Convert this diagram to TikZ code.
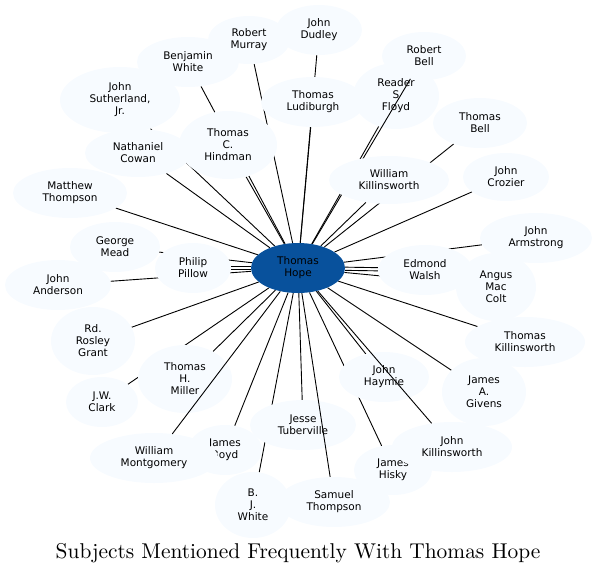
\documentclass[tikz,border=0pt]{standalone}
\usepackage{fontspec}
\newfontfamily\nodefont{DejaVu Sans}
\newfontfamily\titlefont[Extension=.otf]{lmroman10-regular}
\usetikzlibrary{shapes.geometric}
\definecolor{pale}{HTML}{F7FBFF}
\definecolor{hopeblue}{HTML}{08519C}
\pgfdeclarelayer{background}
\pgfdeclarelayer{foreground}
\pgfsetlayers{background,main,foreground}
\begin{document}
\begin{tikzpicture}[x=1pt,y=-1pt,
  pn/.style n args={2}{ellipse, fill=pale, draw=none, minimum width=#1, minimum height=#2, inner sep=0pt, align=center, font=\nodefont\fontsize{10.5}{12}\selectfont},
  hopenode/.style={ellipse, fill=hopeblue, draw=none, minimum width=94, minimum height=50, inner sep=0pt, align=center, font=\nodefont\fontsize{10.5}{12}\selectfont},
  edge/.style={draw=black, line width=0.9pt},
  titlestyle/.style={font=\titlefont\fontsize{21.4}{25}\selectfont, inner sep=0pt, anchor=base}]
\useasboundingbox (0,0) rectangle (597,574);
% nodes (main layer)
\node[pn={86}{50}] (dudley) at (319,30) {John\\Dudley};
\node[pn={82}{48}] (murray) at (249,40) {Robert\\Murray};
\node[pn={102}{50}] (bwhite) at (188,62) {Benjamin\\White};
\node[pn={120}{66}] (suth) at (120,100) {John\\Sutherland,\\Jr.};
\node[pn={106}{48}] (cowan) at (138,153) {Nathaniel\\Cowan};
\node[pn={98}{68}] (hindman) at (228,145) {Thomas\\C.\\Hindman};
\node[pn={104}{50}] (ludi) at (313,102) {Thomas\\Ludiburgh};
\node[pn={84}{48}] (rbell) at (424,56) {Robert\\Bell};
\node[pn={86}{66}] (floyd) at (396,96) {Reader\\S\\Floyd};
\node[pn={94}{50}] (tbell) at (480,123) {Thomas\\Bell};
\node[pn={86}{48}] (crozier) at (506,177) {John\\Crozier};
\node[pn={114}{50}] (mthompson) at (70,193) {Matthew\\Thompson};
\node[pn={90}{50}] (mead) at (115,247) {George\\Mead};
\node[pn={76}{50}] (pillow) at (193,268) {Philip\\Pillow};
\node[pn={106}{50}] (anderson) at (58,285) {John\\Anderson};
\node[pn={84}{68}] (grant) at (93,341) {Rd.\\Rosley\\Grant};
\node[pn={94}{68}] (miller) at (185,379) {Thomas\\H.\\Miller};
\node[pn={72}{50}] (clark) at (102,402) {J.W.\\Clark};
\node[pn={74}{50}] (boyd) at (225,450) {James\\Boyd};
\node[pn={128}{50}] (montgomery) at (154,458) {William\\Montgomery};
\node[pn={106}{50}] (tuberville) at (303,425) {Jesse\\Tuberville};
\node[pn={76}{66}] (bjwhite) at (253,505) {B.\\J.\\White};
\node[pn={112}{50}] (sthompson) at (334,502) {Samuel\\Thompson};
\node[pn={78}{50}] (hisky) at (393,470) {James\\Hisky};
\node[pn={120}{50}] (jk) at (452,447) {John\\Killinsworth};
\node[pn={90}{50}] (haymie) at (384,377) {John\\Haymie};
\node[pn={84}{68}] (givens) at (484,392) {James\\A.\\Givens};
\node[pn={120}{50}] (tk) at (525,342) {Thomas\\Killinsworth};
\node[pn={94}{50}] (walsh) at (425,270) {Edmond\\Walsh};
\node[pn={80}{68}] (angus) at (496,287) {Angus\\Mac\\Colt};
\node[pn={112}{50}] (armstrong) at (536,238) {John\\Armstrong};
% nodes on top
\begin{pgfonlayer}{foreground}
\node[pn={120}{48}] (wk) at (389,180) {William\\Killinsworth};
\node[hopenode] (hope) at (298,268) {Thomas\\Hope};
\end{pgfonlayer}
% edges beneath the nodes
\begin{pgfonlayer}{background}
\draw[edge] (hope) -- (dudley);
\draw[edge] (hope) -- (murray);
\draw[edge] (hope) -- (bwhite);
\draw[edge] (hope) -- (suth);
\draw[edge] (hope) -- (cowan);
\draw[edge] (hope) -- (hindman);
\draw[edge] (hope) -- (ludi);
\draw[edge] (hope) -- (floyd);
\draw[edge] (hope) -- (tbell);
\draw[edge] (hope) -- (wk);
\draw[edge] (hope) -- (crozier);
\draw[edge] (hope) -- (mthompson);
\draw[edge] (hope) -- (mead);
\draw[edge, transform canvas={yshift=1.6pt}] (hope) -- (pillow);
\draw[edge, transform canvas={yshift=-1.6pt}] (hope) -- (pillow);
\draw[edge] (hope) -- (anderson);
\draw[edge] (hope) -- (grant);
\draw[edge] (hope) -- (miller);
\draw[edge] (hope) -- (clark);
\draw[edge] (hope) -- (boyd);
\draw[edge] (hope) -- (tuberville);
\draw[edge] (hope) -- (bjwhite);
\draw[edge] (hope) -- (hisky);
\draw[edge] (hope) -- (haymie);
\draw[edge] (hope) -- (givens);
\draw[edge] (hope) -- (tk);
\draw[edge, transform canvas={yshift=1.6pt}] (hope) -- (walsh);
\draw[edge, transform canvas={yshift=-1.6pt}] (hope) -- (walsh);
\draw[edge] (hope) -- (angus);
\draw[edge] (hope) -- (armstrong);
\end{pgfonlayer}
% edges drawn over some nodes
\draw[edge] (hope) -- (rbell);
\draw[edge] (hope) -- (sthompson);
\draw[edge] (hope) -- (jk);
\draw[edge] (hope) -- (montgomery);
% title
\node[titlestyle] (title) at (298,558) {Subjects Mentioned Frequently With Thomas Hope};
\end{tikzpicture}
\end{document}
